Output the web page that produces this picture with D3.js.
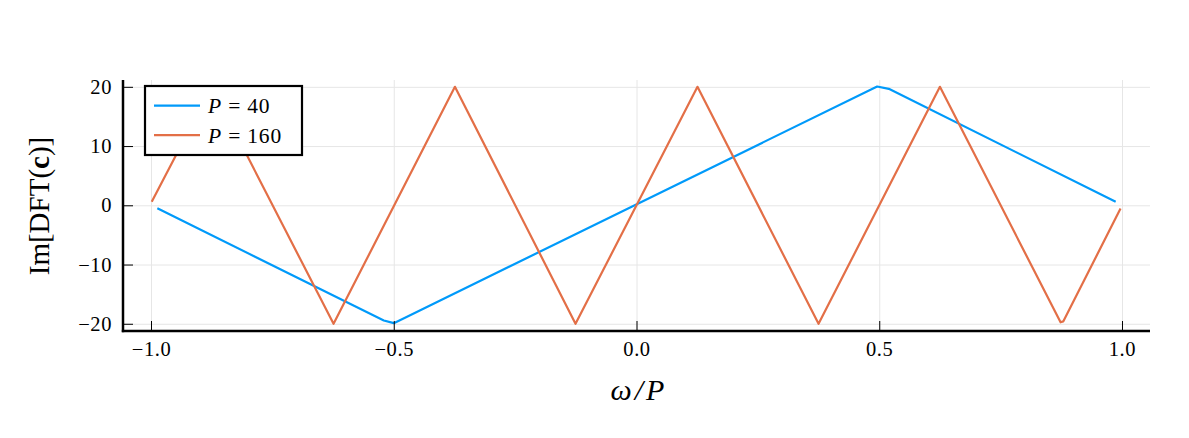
<!DOCTYPE html>
<html>
<head>
<meta charset="utf-8">
<script src="https://cdn.jsdelivr.net/npm/d3@7"></script>
<style>
  body { margin: 0; background: #fff; }
  text { font-family: "Liberation Serif", "DejaVu Serif", serif; }
</style>
</head>
<body>
<div id="chart"></div>
<script>
// data (polyline vertices)
const p40_x = [-0.987, -0.5205, -0.4999, 0.4957, 0.5197, 0.987];
const p40_y = [-0.5, -19.45, -19.9, 20.05, 19.66, 0.6];

const p160_x = [-0.9985, -0.875, -0.624, -0.374, -0.1256, 0.1256, 0.375, 0.625, 0.8735, 0.879, 0.997];
const p160_y = [0.6, 20, -20, 20, -20, 20, -20, 20, -19.75, -19.6, -0.56];

const xTicks = [-1.0, -0.5, 0.0, 0.5, 1.0];
const yTicks = [-20, -10, 0, 10, 20];
const seriesNames = ["40", "160"];
const colors = ["#009afa", "#e36f47"];

const W = 1189, H = 438;
const pl = 123, pr = 1150, pt = 80, pb = 331;

var svg = d3.select("#chart")
    .append("svg")
    .attr("width", W)
    .attr("height", H)

var x = d3.scaleLinear().domain([-1.0577, 1.0577]).range([pl, pr])
var y = d3.scaleLinear().domain([-21.22, 21.15]).range([pb, pt])

// grid
svg.append("g")
    .attr("transform", `translate(0, ${pb})`)
    .call(d3.axisBottom(x).tickValues(xTicks).tickSize(-(pb - pt)).tickFormat(""))
    .call(g => g.select(".domain").remove())
    .selectAll("line").attr("stroke", "#e6e6e6").attr("stroke-width", 1)
svg.append("g")
    .attr("transform", `translate(${pl}, 0)`)
    .call(d3.axisLeft(y).tickValues(yTicks).tickSize(-(pr - pl)).tickFormat(""))
    .call(g => g.select(".domain").remove())
    .selectAll("line").attr("stroke", "#e6e6e6").attr("stroke-width", 1)

// series
let line = d3.line().x(d => x(d[0])).y(d => y(d[1]))
let series = [d3.zip(p40_x, p40_y), d3.zip(p160_x, p160_y)]
svg.append("g").selectAll("path")
    .data(series)
    .join("path")
    .attr("d", line)
    .attr("fill", "none")
    .attr("stroke", (d, i) => colors[i])
    .attr("stroke-width", 2.2)
    .attr("stroke-linejoin", "round")

// axes
let fmtX = d3.format(".1f")
let xAxis = svg.append("g")
    .attr("transform", `translate(0, ${pb})`)
    .call(d3.axisBottom(x).tickValues(xTicks).tickSizeInner(-10).tickSizeOuter(0).tickPadding(10).tickFormat(fmtX))
let yAxis = svg.append("g")
    .attr("transform", `translate(${pl}, 0)`)
    .call(d3.axisLeft(y).tickValues(yTicks).tickSizeInner(-10).tickSizeOuter(0).tickPadding(11))
for (let g of [xAxis, yAxis]) {
    g.selectAll("text").attr("font-size", 20.5).attr("fill", "#000")
        .style("font-family", '"Liberation Serif", serif')
        .style("letter-spacing", "0.6px")
    g.selectAll(".tick line").attr("stroke", "#000").attr("stroke-width", 1)
    g.select(".domain").attr("stroke", "#000").attr("stroke-width", 2.5)
}
xAxis.select(".domain").attr("d", `M${pl - 1.2},0H${pr}`)
yAxis.select(".domain").attr("d", `M0,${pb + 1.2}V${pt}`)

// axis labels
let xlab = svg.append("text")
    .attr("x", (pl + pr) / 2 + 1)
    .attr("y", 400)
    .attr("text-anchor", "middle")
    .attr("font-size", 30)
    .attr("font-style", "italic")
xlab.append("tspan").text("ω")
xlab.append("tspan").attr("dx", 3).text("/")
xlab.append("tspan").attr("dx", 3).text("P")

let ylab = svg.append("text")
    .attr("transform", "translate(49, 206) rotate(-90)")
    .attr("text-anchor", "middle")
    .attr("font-size", 29)
ylab.append("tspan").text("Im[DFT(")
ylab.append("tspan").attr("font-weight", "bold").text("c")
ylab.append("tspan").text(")]")

// legend
let leg = svg.append("g")
leg.append("rect")
    .attr("x", 145).attr("y", 86)
    .attr("width", 157).attr("height", 69)
    .attr("fill", "#fff").attr("stroke", "#000").attr("stroke-width", 2.2)
let rows = leg.selectAll("g.row")
    .data(seriesNames)
    .join("g")
    .attr("class", "row")
    .attr("transform", (d, i) => `translate(0, ${105.7 + i * 29.5})`)
rows.append("line")
    .attr("x1", 154).attr("x2", 200)
    .attr("stroke", (d, i) => colors[i]).attr("stroke-width", 2.2)
let lt = rows.append("text")
    .attr("x", 208).attr("y", 7.5)
    .attr("font-size", 21.5)
lt.append("tspan").attr("font-style", "italic").text("P")
lt.append("tspan").attr("dx", 7).text("=")
lt.append("tspan").attr("dx", 7).style("letter-spacing", "0.8px").text(d => d)
</script>
</body>
</html>
